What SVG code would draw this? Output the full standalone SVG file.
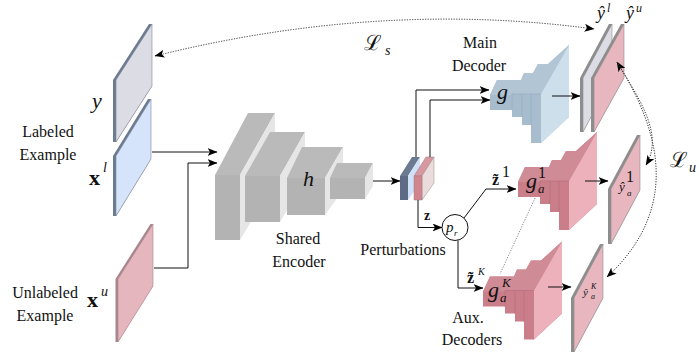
<svg xmlns="http://www.w3.org/2000/svg" width="699" height="356" viewBox="0 0 699 356">
<defs>
<style>
.lbl{font-family:"Liberation Serif",serif;font-size:16px;fill:#111;text-anchor:middle}
.it{font-family:"Liberation Serif",serif;font-style:italic;fill:#111}
.bf{font-family:"Liberation Serif",serif;font-weight:bold;fill:#111}
.cal{font-family:"DejaVu Serif",serif;fill:#111}
.ln{fill:none;stroke:#111;stroke-width:1}
.dot{fill:none;stroke:#333;stroke-width:1;stroke-dasharray:1.2 1.4}
.dotg{fill:none;stroke:#888;stroke-width:1;stroke-dasharray:1.2 1.4}
.ef{fill:#b3b3b3}.et{fill:#bababa}.er{fill:#e6e6e6}
.bsil{fill:#a7bccd}.btop{fill:#b1c5d5}.blight{fill:#cddfeb}.bline{stroke:#98aec0;stroke-width:0.7;fill:none}
.psil{fill:#c97e8a}.ptop{fill:#cf8b96}.plight{fill:#ecb1ba}.pline{stroke:#b96f7b;stroke-width:0.7;fill:none}
.edgeS{fill:#6c7b91}.edgeM{fill:#a7868e}.edgeG{fill:#8d8d8d}
</style>
<marker id="ah" viewBox="0 0 10 8" refX="9.5" refY="4" markerWidth="10" markerHeight="8" markerUnits="userSpaceOnUse" orient="auto-start-reverse">
<path d="M0,0 L10,4 L0,8 L2.5,4 z" fill="#000"/>
</marker>
</defs>
<rect width="699" height="356" fill="#fff"/>

<!-- left inputs -->
<g id="panel-y">
<polygon class="edgeS" points="113,80 149,24 152,24 152,86 116,142 113,142"/>
<polygon points="116,80 152,24 152,86 116,142" fill="#dcdce4" stroke="#7d8799" stroke-width="0.6"/>
<text class="it" x="92" y="108" font-size="22">y</text>
</g>
<g id="panel-xl">
<polygon class="edgeS" points="113,156 148,99 151,99 151,159 116,216 113,216"/>
<polygon points="116,156 151,99 151,159 116,216" fill="#d6e4fb" stroke="#7d8799" stroke-width="0.6"/>
<text class="lbl" x="48" y="137">Labeled</text>
<text class="lbl" x="48" y="160">Example</text>
<text class="bf" x="89" y="185" font-size="22">x</text>
<text class="it" x="103" y="172" font-size="14">l</text>
</g>
<g id="panel-xu">
<polygon class="edgeM" points="115.5,279 150.5,224 153,224 153,286 118,342 115.5,342"/>
<polygon points="118,279 153,224 153,286 118,342" fill="#e5b6bd" stroke="#a7868e" stroke-width="0.6"/>
<text class="lbl" x="45" y="298">Unlabeled</text>
<text class="lbl" x="45" y="321">Example</text>
<text class="bf" x="87" y="307" font-size="22">x</text>
<text class="it" x="101" y="296" font-size="14">u</text>
</g>

<!-- encoder -->
<g id="encoder">
<polygon class="et" points="215,175 248,113 275,113 240,175"/>
<polygon class="er" points="240,175 275,113 275,182 240,240"/>
<polygon class="ef" points="215,175 240,175 240,240 215,240"/>
<polygon class="et" points="245,176 270,132 305,132 280,176"/>
<polygon class="er" points="280,176 305,132 305,180 280,222"/>
<polygon class="ef" points="245,176 280,176 280,222 245,222"/>
<polygon class="et" points="287,178 302,147 343,147 325,178"/>
<polygon class="er" points="325,178 343,147 343,190 325,215"/>
<polygon class="ef" points="287,178 325,178 325,215 287,215"/>
<polygon class="et" points="330,178 337,163 373,163 365,178"/>
<polygon class="er" points="365,178 373,163 373,186 365,199"/>
<polygon class="ef" points="330,178 365,178 365,199 330,199"/>
<text class="it" x="303" y="186" font-size="22">h</text>
<text class="lbl" x="298" y="244">Shared</text>
<text class="lbl" x="299" y="267">Encoder</text>
</g>

<!-- perturbation blocks -->
<g id="perturbations">
<polygon points="400,176 412,157 420,157 408,176" fill="#6b7a91"/>
<polygon points="408,176 420,157 420,183 408,200" fill="#cfe0f8"/>
<polygon points="400,176 408,176 408,200 400,200" fill="#5d6c84"/>
<polygon points="414,176 426,157 434,157 422,176" fill="#d898a2" stroke="#a07880" stroke-width="0.5"/>
<polygon points="422,176 434,157 434,183 422,200" fill="#eadcdc" stroke="#a08888" stroke-width="0.5"/>
<polygon points="414,176 422,176 422,200 414,200" fill="#d0858f" stroke="#a07880" stroke-width="0.5"/>
<text class="lbl" x="403" y="255">Perturbations</text>
</g>

<g id="perturb-fn">
<circle cx="455" cy="227.5" r="13" fill="#fff" stroke="#111" stroke-width="1"/>
<text class="it" x="446" y="232" font-size="15">p</text>
<text class="it" x="454" y="236" font-size="9">r</text>
</g>

<!-- main decoder -->
<g id="main-decoder">
<g transform="translate(490,95)">
<polygon class="bsil" points="0,0 7,-15 31,-15 34,-22 43,-22 48,-31 58,-31 79,-50 79,22 51,48 41,48 41,30 32,30 32,22 22,22 22,15 0,15"/>
<polygon class="btop" points="0,0 7,-15 31,-15 34,-22 43,-22 48,-31 58,-31 79,-50 51,-1 22,-1 22,0"/>
<polygon class="blight" points="51,-1 79,-50 79,22 51,48"/>
<polyline class="bline" points="22,15 22,-1 51,-1"/>
<line class="bline" x1="32" y1="-1" x2="32" y2="22"/>
<line class="bline" x1="41" y1="-1" x2="41" y2="30"/>
</g>
<text class="it" x="497" y="99" font-size="22">g</text>
<text class="lbl" x="480" y="48">Main</text>
<text class="lbl" x="479" y="71">Decoder</text>
</g>

<!-- aux decoder 1 -->
<g id="aux-decoder-1">
<g transform="translate(518,182)">
<polygon class="psil" points="0,0 7,-15 31,-15 34,-22 43,-22 48,-31 58,-31 79,-50 79,22 51,48 41,48 41,30 32,30 32,22 22,22 22,15 0,15"/>
<polygon class="ptop" points="0,0 7,-15 31,-15 34,-22 43,-22 48,-31 58,-31 79,-50 51,-1 22,-1 22,0"/>
<polygon class="plight" points="51,-1 79,-50 79,22 51,48"/>
<polyline class="pline" points="22,15 22,-1 51,-1"/>
<line class="pline" x1="32" y1="-1" x2="32" y2="22"/>
<line class="pline" x1="41" y1="-1" x2="41" y2="30"/>
</g>
<text class="it" x="526" y="188" font-size="22">g</text>
<text class="it" x="538" y="193" font-size="13">a</text>
<text class="lbl" x="542" y="178" font-size="13">1</text>
</g>

<!-- aux decoder K -->
<g id="aux-decoder-K">
<g transform="translate(483,291.5)">
<polygon class="psil" points="0,0 7,-15 31,-15 34,-22 43,-22 48,-31 58,-31 79,-50 79,22 51,48 41,48 41,30 32,30 32,22 22,22 22,15 0,15"/>
<polygon class="ptop" points="0,0 7,-15 31,-15 34,-22 43,-22 48,-31 58,-31 79,-50 51,-1 22,-1 22,0"/>
<polygon class="plight" points="51,-1 79,-50 79,22 51,48"/>
<polyline class="pline" points="22,15 22,-1 51,-1"/>
<line class="pline" x1="32" y1="-1" x2="32" y2="22"/>
<line class="pline" x1="41" y1="-1" x2="41" y2="30"/>
</g>
<text class="it" x="488" y="297" font-size="22">g</text>
<text class="it" x="500" y="302" font-size="13">a</text>
<text class="it" x="502" y="287" font-size="13">K</text>
<text class="lbl" x="468" y="323">Aux.</text>
<text class="lbl" x="472" y="345">Decoders</text>
</g>

<!-- outputs -->
<g id="out-yl">
<polygon class="edgeG" points="580,78 609,24 612,24 612,78 583,132 580,132"/>
<polygon points="583,78 612,24 612,78 583,132" fill="#dcdce4" stroke="#8d8d8d" stroke-width="0.6"/>
<text class="it" x="597" y="19" font-size="18">ŷ</text>
<text class="it" x="607" y="12" font-size="12">l</text>
</g>
<g id="out-yu">
<polygon class="edgeG" points="591,78 621,24 624,24 624,78 594,132 591,132"/>
<polygon points="594,78 624,24 624,78 594,132" fill="#e8b6be" stroke="#8d8d8d" stroke-width="0.6"/>
<text class="it" x="626" y="19" font-size="18">ŷ</text>
<text class="it" x="636" y="12" font-size="12">u</text>
</g>
<g id="out-ya1">
<polygon class="edgeG" points="608,189 637,135 640,135 640,190 611,244 608,244"/>
<polygon points="611,189 640,135 640,190 611,244" fill="#e8b6be" stroke="#8d8d8d" stroke-width="0.6"/>
<text class="it" x="619" y="191" font-size="13">ŷ</text>
<text class="lbl" x="630" y="182" font-size="9">1</text>
<text class="it" x="627" y="196" font-size="9">a</text>
</g>
<g id="out-yaK">
<polygon class="edgeG" points="571,298 600,244 603,244 603,298 574,352 571,352"/>
<polygon points="574,298 603,244 603,298 574,352" fill="#e8b6be" stroke="#8d8d8d" stroke-width="0.6"/>
<text class="it" x="583" y="296" font-size="11">ŷ</text>
<text class="it" x="591" y="289" font-size="8">K</text>
<text class="it" x="591" y="299" font-size="8">a</text>
</g>

<!-- connectors -->
<g id="connectors">
<path class="ln" d="M152,152 H217" marker-end="url(#ah)"/>
<path class="ln" d="M154,268 H188 V163 H217" marker-end="url(#ah)"/>
<path class="ln" d="M373,181 H400" marker-end="url(#ah)"/>
<path class="ln" d="M416,157 V90 H489" marker-end="url(#ah)"/>
<path class="ln" d="M430,157 V100 H490" marker-end="url(#ah)"/>
<path class="ln" d="M418,200 V227.5 H442" marker-end="url(#ah)"/>
<path class="ln" d="M464,218 L486,189 H516" marker-end="url(#ah)"/>
<path class="ln" d="M458,240.5 V288 H483" marker-end="url(#ah)"/>
<path class="ln" d="M552,96 H580" marker-end="url(#ah)"/>
<path class="ln" d="M585,181 H608" marker-end="url(#ah)"/>
<path class="ln" d="M548,287 H571" marker-end="url(#ah)"/>
<path class="dot" d="M155,56 Q380,0 594,29" marker-start="url(#ah)" marker-end="url(#ah)"/>
<path class="dot" d="M617,62 C640,100 664,135 646,165" marker-start="url(#ah)" marker-end="url(#ah)"/>
<path class="dot" d="M617,62 C650,115 690,200 607,277" marker-end="url(#ah)"/>
<path class="dotg" d="M535,198 L500,274"/>
<text class="bf" x="424" y="220" font-size="14">z</text>
<text class="bf" x="492" y="185" font-size="16">z̃</text>
<text class="lbl" x="506" y="177" font-size="10">1</text>
<text class="bf" x="467" y="283" font-size="16">z̃</text>
<text class="it" x="478" y="275" font-size="10">K</text>
<text class="cal" x="364" y="50" font-size="21">ℒ</text>
<text class="it" x="385" y="55" font-size="14">s</text>
<text class="cal" x="670" y="167" font-size="21">ℒ</text>
<text class="it" x="689" y="172" font-size="14">u</text>
</g>
</svg>
